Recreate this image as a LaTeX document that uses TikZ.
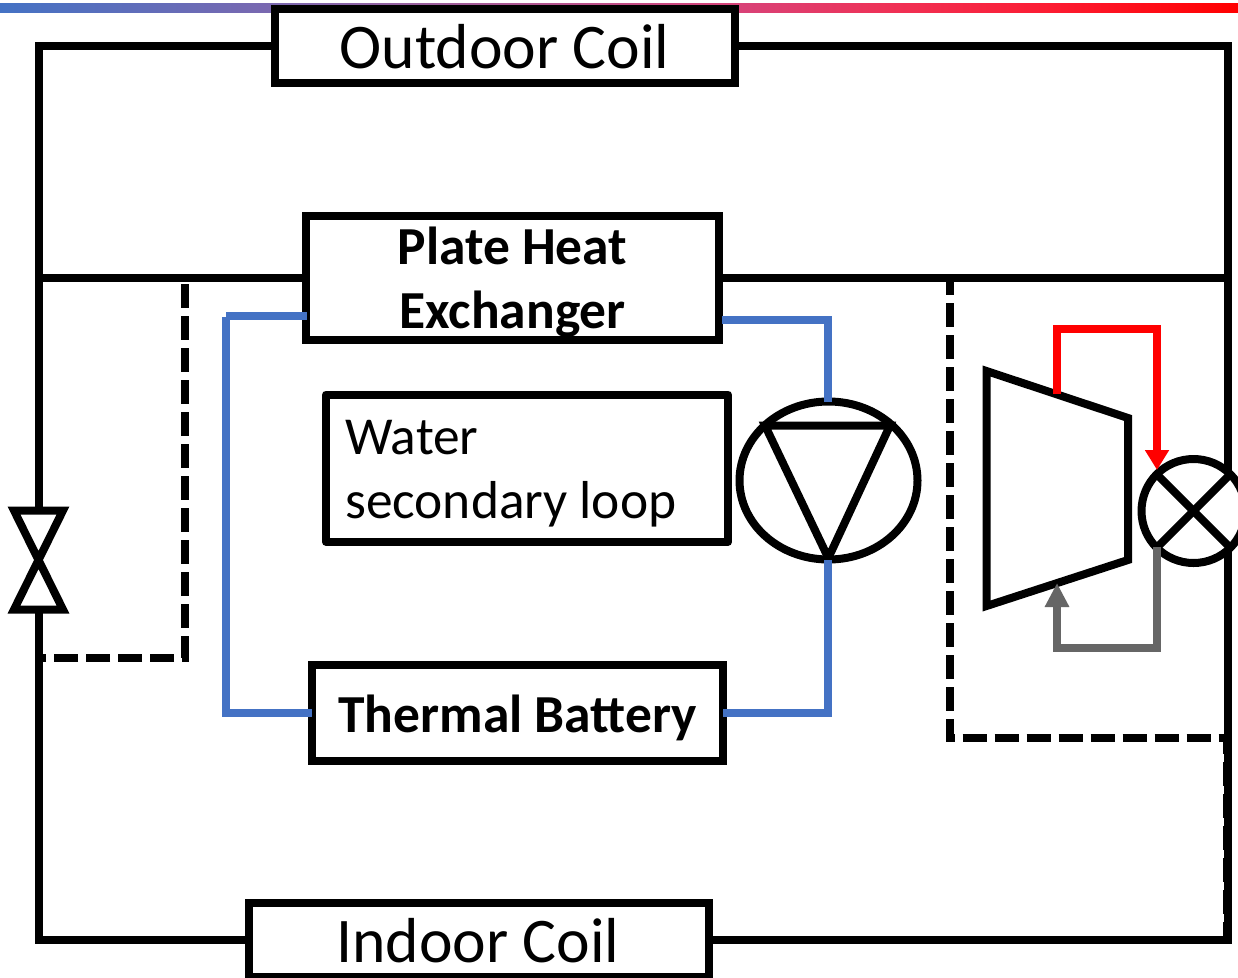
\documentclass[tikz,border=0pt]{standalone}
\usepackage{fontspec}
\setmainfont{Carlito}
\usetikzlibrary{arrows.meta,shapes.geometric}
\definecolor{loopblue}{HTML}{4472C4}
\definecolor{flowgray}{HTML}{666666}
\pgfdeclarehorizontalshading{barshade}{100bp}{
  rgb(0bp)=(0.267,0.447,0.769);
  rgb(25bp)=(0.267,0.447,0.769);
  rgb(35.9bp)=(0.478,0.408,0.690);
  rgb(41.2bp)=(0.588,0.384,0.627);
  rgb(54.8bp)=(0.847,0.259,0.471);
  rgb(61.3bp)=(0.941,0.188,0.329);
  rgb(67.4bp)=(0.988,0.110,0.196);
  rgb(75bp)=(1,0,0);
  rgb(100bp)=(1,0,0)}
\tikzset{
  pipe/.style={line width=8pt,line join=miter},
  dashpipe/.style={line width=8pt,dash pattern=on 24pt off 8pt},
  water/.style={line width=8pt,draw=loopblue},
  box/.style={draw,line width=8pt,fill=white,inner sep=0pt,outer sep=0pt},
  coilfont/.style={font=\fontsize{63.6}{64}\selectfont},
  boldfont/.style={font=\fontsize{53.5}{64}\selectfont\bfseries,align=center},
  plainfont/.style={font=\fontsize{53.4}{64}\selectfont,align=left},
}
\begin{document}
\begin{tikzpicture}[x=1pt,y=-1pt]
\clip (0,0) rectangle (1238,977);
\fill[white] (0,0) rectangle (1238,977);
\shade[shading=barshade] (0,3.3) rectangle (1238,12.3);
% junctions
\coordinate (tl) at (38.5,46.3);
\coordinate (tr) at (1228,46.3);
\coordinate (ml) at (38.5,277.8);
\coordinate (mr) at (1228,277.8);
\coordinate (bl) at (38.5,940);
\coordinate (br) at (1228,940);
\coordinate (vtop) at (38.5,510.5);
\coordinate (vbot) at (38.5,609.5);
\coordinate (vmid) at (38.5,560);
\coordinate (xtop) at (1228,474);
\coordinate (xbot) at (1228,548);
\coordinate (ld0) at (185,284.3);
\coordinate (ld1) at (185,657.5);
\coordinate (ld2) at (39,657.5);
\coordinate (rd0) at (949.7,277);
\coordinate (rd1) at (949.7,738);
\coordinate (rd2) at (1226.5,738);
\coordinate (rd3) at (1226.5,936);
% dashed bypasses
\draw[dashpipe] (ld0) -- (ld1) -- (ld2);
\draw[dashpipe,dash phase=6pt] (rd0) -- (rd1) -- (rd2) -- (rd3);
% refrigerant loop
\draw[pipe] (vbot) -- (bl) -- (br) -- (xbot);
\draw[pipe] (xtop) -- (tr) -- (tl) -- (vtop);
\draw[pipe] (ml) -- (mr);
% boxes
\node[box,minimum width=460.5pt,minimum height=73.5pt] (outdoor) at (504.75,46.1) {};
\node[box,minimum width=460pt,minimum height=73.7pt] (indoor) at (478.5,940.2) {};
\node[box,minimum width=412.8pt,minimum height=124pt] (phx) at (512.4,277.75) {};
\node[box,line join=round,minimum width=402pt,minimum height=147.3pt] (wsl) at (527,468.2) {};
\node[box,minimum width=411pt,minimum height=96.5pt] (bat) at (517.8,713.2) {};
% texts
\node[coilfont] (outdoortext) at (504.5,46.5) {Outdoor Coil};
\node[coilfont] (indoortext) at (478,941) {Indoor Coil};
\node[boldfont] (phxtext) at (512.5,282.75) {Plate Heat\\Exchanger};
\node[plainfont,anchor=west,inner sep=0pt] (wsltext) at (345,473.5) {Water\\secondary loop};
\node[boldfont] (battext) at (517.5,717.5) {Thermal Battery};
% water loop
\coordinate (phxl) at (306.7,316);
\coordinate (phxr) at (722.3,320.3);
\coordinate (batl) at (312,713);
\coordinate (batr) at (723.3,713);
\node[draw,ellipse,line width=8pt,minimum width=178pt,minimum height=158pt,inner sep=0pt,outer sep=0pt] (pump) at (828.5,480.5) {};
\coordinate (pin) at (828.3,402.3);
\coordinate (pout) at (828.3,560);
\coordinate (papex) at (828.3,558);
\draw[pipe] (765,425.5) -- (890,425.5) -- (papex) -- cycle;
\draw[water] (phxl) -- (225.7,316) (225.7,316.7) -- (225.7,713) -- (batl);
\draw[water] (phxr) -- (828.3,320.3) -- (pin);
\draw[water] (pout) -- (828.3,713) -- (batr);
% expansion valve
\draw[pipe] (14,510.5) -- (63,510.5) -- (vmid) -- cycle;
\draw[pipe] (14,609.5) -- (63,609.5) -- (vmid) -- cycle;
% compressor
\draw[pipe,fill=white] (986.5,371) -- (1128,418) -- (1128,560) -- (986.5,606) -- cycle;
\node[draw,circle,line width=8pt,minimum size=104pt,inner sep=0pt,outer sep=0pt] (xv) at (1193.5,511) {};
\draw[line width=8pt] (xv.135) -- (xv.315);
\draw[line width=8pt] (xv.45) -- (xv.225);
\coordinate (cout) at (1057,394);
\coordinate (cin) at (1057,583);
\coordinate (xin) at (1157,470);
\coordinate (xout) at (1157,547);
\draw[line width=8pt,draw=red,-{Triangle[length=20pt,width=23pt]}] (cout) -- (1057,329) -- (1157,329) -- (xin);
\draw[line width=8pt,draw=flowgray,-{Triangle[length=24pt,width=23pt]}] (xout) -- (1157,648) -- (1057,648) -- (cin);
\end{tikzpicture}
\end{document}
